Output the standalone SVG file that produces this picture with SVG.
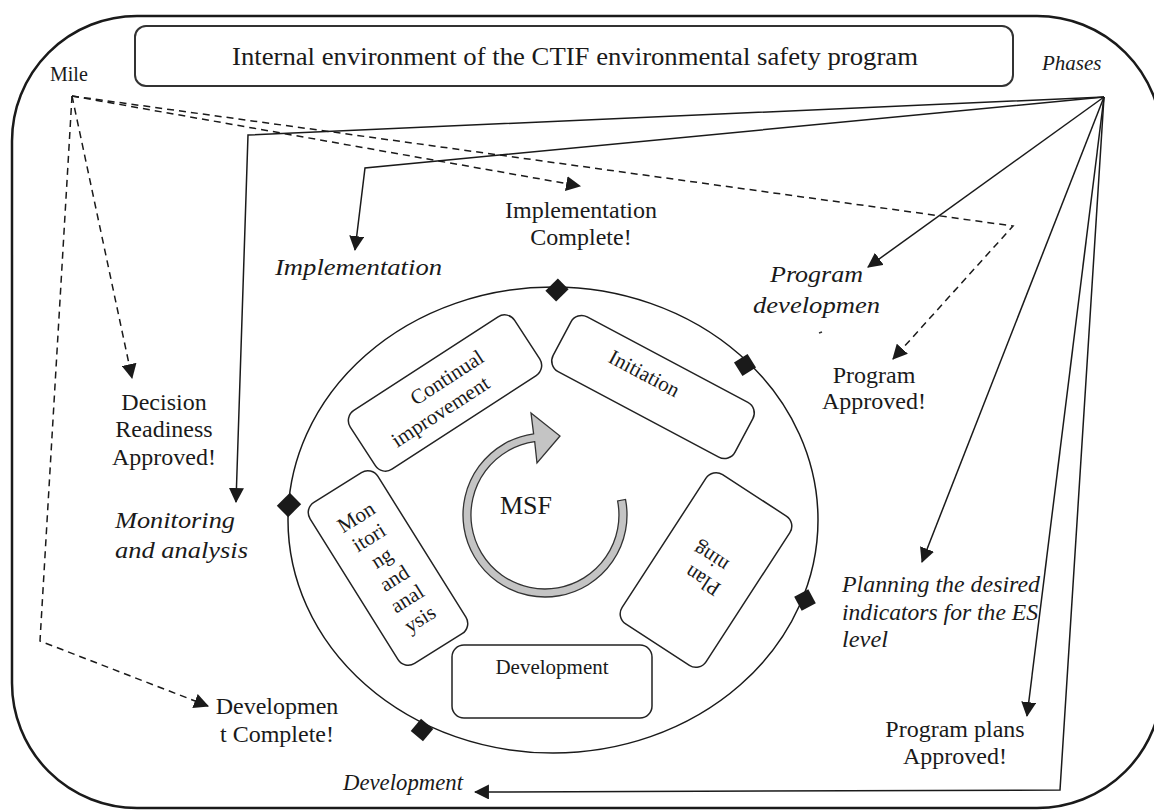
<svg xmlns="http://www.w3.org/2000/svg" width="1154" height="810" viewBox="0 0 1154 810">
<defs>
<style>
.t{font-family:"Liberation Serif","Times New Roman",serif;fill:#1a1a1a}
.m{font-size:24px;text-anchor:middle}
.i{font-size:23px;font-style:italic}
.b{font-size:21px;text-anchor:middle}
.box{fill:#fff;stroke:#222;stroke-width:1.5}
.ln{fill:none;stroke:#1a1a1a;stroke-width:1.5}
.ds{fill:none;stroke:#1a1a1a;stroke-width:1.5;stroke-dasharray:7 5}
</style>
<marker id="ah" viewBox="0 0 14 14" refX="13" refY="7" markerWidth="15" markerHeight="15" markerUnits="userSpaceOnUse" orient="auto">
<path d="M0,0 L14,7 L0,14 Z" fill="#1a1a1a"/>
</marker>
<rect id="dm" x="-8" y="-8" width="16" height="16" fill="#1a1a1a"/>
</defs>
<rect x="12" y="16" width="1150" height="792" rx="125" fill="#fff" stroke="#1a1a1a" stroke-width="2.5"/>
<g id="title">
<rect x="135" y="26" width="878" height="60" rx="11" fill="#fff" stroke="#333" stroke-width="2"/>
<text class="t" x="232" y="65" font-size="26" textLength="686" lengthAdjust="spacingAndGlyphs">Internal environment of the CTIF environmental safety program</text>
</g>
<g id="mile"><text class="t" x="50" y="81" font-size="20">Mile</text></g>
<g id="phases"><text class="t" x="1042" y="70" font-size="21" font-style="italic">Phases</text></g>
<g id="cycle">
<ellipse cx="553" cy="520" rx="265" ry="233" fill="none" stroke="#1a1a1a" stroke-width="1.5"/>
<use href="#dm" transform="translate(557,290) rotate(45) scale(0.95,1.1)"/>
<use href="#dm" transform="translate(745,365) rotate(58)"/>
<use href="#dm" transform="translate(805,600) rotate(62)"/>
<use href="#dm" transform="translate(289,505) rotate(45) scale(1,1.15)"/>
<use href="#dm" transform="translate(422,730) rotate(40)"/>
</g>
<g id="continual" transform="translate(445,393) rotate(-33)">
<rect class="box" x="-98" y="-35" width="196" height="70" rx="12"/>
<text class="t b" x="10" y="-5">Continual</text>
<text class="t b" x="-14" y="20">improvement</text>
</g>
<g id="initiation" transform="translate(653,387) rotate(28)">
<rect class="box" x="-103" y="-31" width="206" height="62" rx="12"/>
<text class="t b" x="-14" y="-1">Initiation</text>
</g>
<g id="planning" transform="translate(706,570) rotate(213)">
<rect class="box" x="-50" y="-89" width="100" height="178" rx="12"/>
<text class="t b" x="-3" y="-4">Plan</text>
<text class="t b" x="3" y="20">ning</text>
</g>
<g id="monitoring" transform="translate(388,568) rotate(-32)">
<rect class="box" x="-40" y="-95" width="80" height="190" rx="12"/>
<text class="t b" x="0" y="-53">Mon</text>
<text class="t b" x="0" y="-29">itori</text>
<text class="t b" x="0" y="-5">ng</text>
<text class="t b" x="0" y="19">and</text>
<text class="t b" x="0" y="43">anal</text>
<text class="t b" x="0" y="67">ysis</text>
</g>
<g id="development">
<rect class="box" x="452" y="645" width="200" height="73" rx="12"/>
<text class="t b" x="552" y="674">Development</text>
</g>
<g id="msf">
<path d="M625.5,499.4 A82,82 0 1 1 533.6,433.8 L531,413 L560,436 L537,463 L534.7,441.7 A74,74 0 1 0 617.6,500.9 Z" fill="#c4c4c4" stroke="#333" stroke-width="1.3"/>
<text class="t" x="526" y="514" font-size="26" text-anchor="middle">MSF</text>
</g>
<g id="connectors">
<polyline class="ln" points="1104,97 248,135 236,502" marker-end="url(#ah)"/>
<polyline class="ln" points="1104,97 365,168 355,250" marker-end="url(#ah)"/>
<line class="ln" x1="1104" y1="97" x2="868" y2="267" marker-end="url(#ah)"/>
<line class="ln" x1="1104" y1="97" x2="922" y2="562" marker-end="url(#ah)"/>
<line class="ln" x1="1104" y1="97" x2="1027" y2="716" marker-end="url(#ah)"/>
<polyline class="ln" points="1104,97 1060,790 475,792" marker-end="url(#ah)"/>
<line class="ds" x1="72" y1="96" x2="580" y2="186" marker-end="url(#ah)"/>
<polyline class="ds" points="72,96 1013,226 893,359" marker-end="url(#ah)"/>
<line class="ds" x1="72" y1="96" x2="132" y2="378" marker-end="url(#ah)"/>
<polyline class="ds" points="72,96 40,641 208,706" marker-end="url(#ah)"/>
</g>
<g id="ms-impl"><text class="t m" x="581" y="218">Implementation</text><text class="t m" x="581" y="245">Complete!</text></g>
<g id="ms-prog"><text class="t m" x="874" y="383">Program</text><text class="t m" x="874" y="409">Approved!</text></g>
<g id="ms-dec"><text class="t m" x="164" y="410">Decision</text><text class="t m" x="164" y="437">Readiness</text><text class="t m" x="164" y="465">Approved!</text></g>
<g id="ms-dev"><text class="t m" x="277" y="714">Developmen</text><text class="t m" x="277" y="742">t Complete!</text></g>
<g id="ms-plans"><text class="t m" x="955" y="737">Program plans</text><text class="t m" x="955" y="764">Approved!</text></g>
<g id="ph-impl"><text class="t i" x="275" y="275" textLength="167" lengthAdjust="spacingAndGlyphs">Implementation</text></g>
<g id="ph-prog"><text class="t i" x="770" y="282" textLength="93" lengthAdjust="spacingAndGlyphs">Program</text><text class="t i" x="753" y="313" textLength="127" lengthAdjust="spacingAndGlyphs">developmen</text><line x1="819" y1="333" x2="822" y2="332" stroke="#333" stroke-width="1.5"/></g>
<g id="ph-mon"><text class="t i" x="115" y="528" textLength="120" lengthAdjust="spacingAndGlyphs">Monitoring</text><text class="t i" x="115" y="558" textLength="133" lengthAdjust="spacingAndGlyphs">and analysis</text></g>
<g id="ph-plan"><text class="t i" x="842" y="592" textLength="198" lengthAdjust="spacingAndGlyphs">Planning the desired</text><text class="t i" x="842" y="620" textLength="196" lengthAdjust="spacingAndGlyphs">indicators for the ES</text><text class="t i" x="842" y="647" textLength="46" lengthAdjust="spacingAndGlyphs">level</text></g>
<g id="ph-dev"><text class="t i" x="343" y="790" textLength="120" lengthAdjust="spacingAndGlyphs">Development</text></g>
</svg>
